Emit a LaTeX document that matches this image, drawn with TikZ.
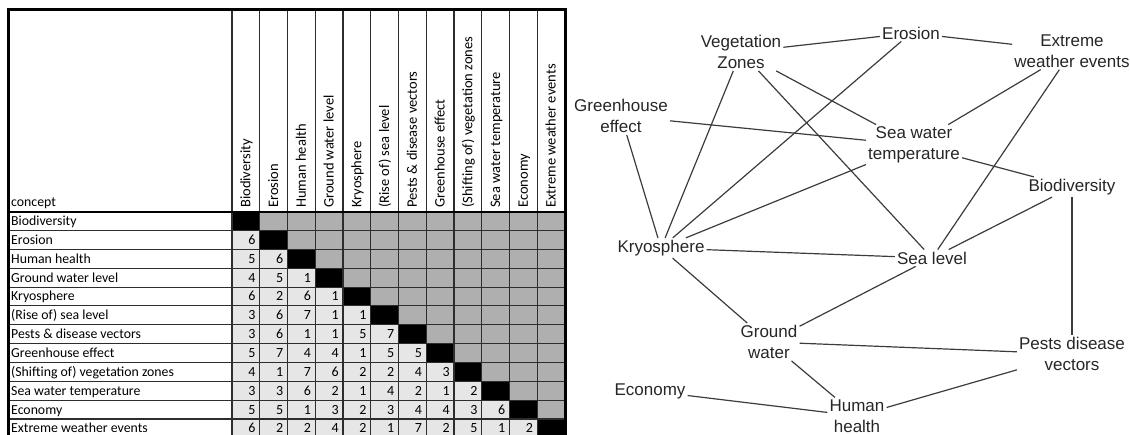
\documentclass[tikz,border=0pt]{standalone}
\usepackage{fontspec}
\setmainfont{Carlito}
\newfontfamily\graphfont{Liberation Sans}
\usetikzlibrary{positioning}
\definecolor{lowcell}{RGB}{230,230,230}
\definecolor{upcell}{RGB}{175,175,175}
\definecolor{gridgray}{RGB}{45,45,45}
\definecolor{linkgray}{RGB}{60,60,60}

\begin{document}
\begin{tikzpicture}[x=1pt,y=-1pt,
  rowlab/.style={anchor=base west,inner sep=0pt,font=\fontsize{13.8}{16}\selectfont},
  collab/.style={rotate=90,anchor=base west,inner sep=0pt,font=\fontsize{14.5}{17}\selectfont},
  num/.style={anchor=base east,inner sep=0pt,font=\fontsize{14}{16}\selectfont},
  gridln/.style={draw=gridgray,line width=1.1pt},
  gnode/.style={font=\graphfont\fontsize{17}{21}\selectfont,align=center,inner sep=2pt,text=black!85},
  link/.style={draw=linkgray,line width=1.2pt}]
\useasboundingbox (0,0) rectangle (1130,435);
\clip (0,0) rectangle (1130,435);

% matrix cells
\foreach \i in {1,...,12}
  \foreach \j in {1,...,12} {
    \ifnum\i=\j \def\cellcol{black}\else\ifnum\j>\i \def\cellcol{upcell}\else\def\cellcol{lowcell}\fi\fi
    \fill[\cellcol] (232+27.75*\j-27.75,211.7+18.85*\i-18.85) rectangle ++(27.75,18.85);
  }

% grid
\foreach \i in {0,...,12}
  \draw[gridln] (8,211.7+18.85*\i) -- (565,211.7+18.85*\i);
\foreach \j in {0,...,12}
  \draw[gridln] (232+27.75*\j,10) -- (232+27.75*\j,445);
\draw[line width=2pt] (8,211.7) -- (565,211.7);
\draw[line width=3pt] (8,445) -- (8,10) -- (565,10) -- (565,445);

% labels
\node[rowlab] (concept) at (11,207) {concept};
\foreach \lab [count=\i] in {Biodiversity,Erosion,Human health,Ground water level,Kryosphere,(Rise of) sea level,Pests \& disease vectors,Greenhouse effect,(Shifting of) vegetation zones,Sea water temperature,Economy,Extreme weather events}
  {
    \node[rowlab] (r\i) at (11,211.7+18.85*\i-5) {\lab};
    \node[collab] (c\i) at (232+27.75*\i-9.5,208) {\lab};
  }

% values
\foreach \r/\vals in {2/{6},3/{5,6},4/{4,5,1},5/{6,2,6,1},6/{3,6,7,1,1},7/{3,6,1,1,5,7},8/{5,7,4,4,1,5,5},9/{4,1,7,6,2,2,4,3},10/{3,3,6,2,1,4,2,1,2},11/{5,5,1,3,2,3,4,4,3,6},12/{6,2,2,4,2,1,7,2,5,1,2}}
  \foreach \v [count=\c] in \vals
    \node[num] (v\r-\c) at (232+27.75*\c-4,211.7+18.85*\r-5) {\v};

% concept map
\node[gnode] (veg) at (741,52) {Vegetation\\Zones};
\node[gnode] (ero) at (911,33) {Erosion};
\node[gnode] (ext) at (1072,51) {Extreme\\weather events};
\node[gnode] (green) at (621,116) {Greenhouse\\effect};
\node[gnode] (swt) at (914,145) {Sea water\\temperature};
\node[gnode] (bio) at (1072,187) {Biodiversity};
\node[gnode] (kryo) at (661,248) {Kryosphere};
\node[gnode] (sea) at (932,258) {Sea level};
\node[gnode] (ground) at (769,342) {Ground\\water};
\node[gnode] (pests) at (1072,354) {Pests disease\\vectors};
\node[gnode] (econ) at (650,391) {Economy};
\node[gnode] (human) at (857,416) {Human\\health};

\draw[link] (veg) -- (ero);
\draw[link] (ero) -- (ext);
\draw[link] (ero) -- (kryo);
\draw[link] (veg) -- (kryo);
\draw[link] (veg) -- (sea);
\draw[link] (veg) -- (swt);
\draw[link] (green) -- (swt);
\draw[link] (green) -- (kryo);
\draw[link] (ext) -- (swt);
\draw[link] (ext) -- (sea);
\draw[link] (swt) -- (bio);
\draw[link] (swt) -- (kryo);
\draw[link] (bio) -- (sea);
\draw[link] (bio) -- (pests);
\draw[link] (kryo) -- (sea);
\draw[link] (kryo) -- (ground);
\draw[link] (sea) -- (ground);
\draw[link] (ground) -- (pests);
\draw[link] (ground) -- (human);
\draw[link] (econ) -- (human);
\draw[link] (human) -- (pests);
\end{tikzpicture}
\end{document}
